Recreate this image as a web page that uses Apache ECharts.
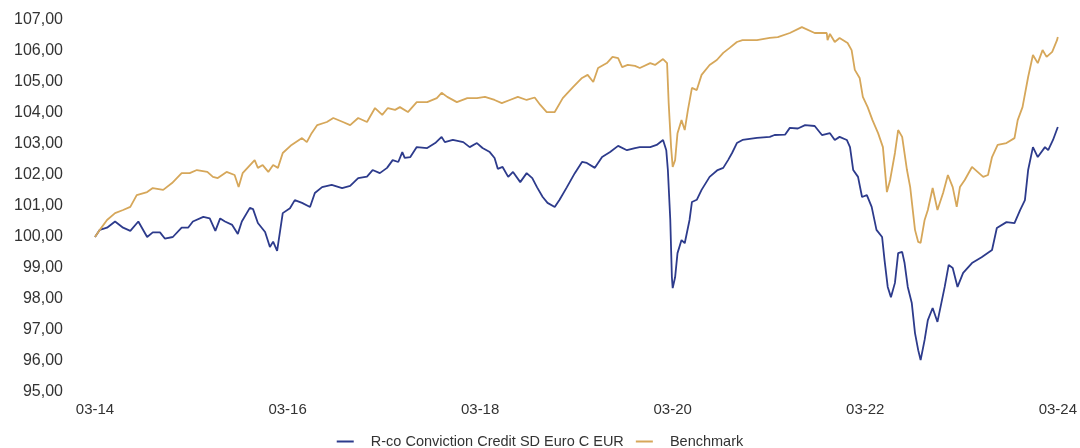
<!DOCTYPE html>
<html>
<head>
<meta charset="utf-8">
<title>R-co Conviction Credit SD Euro C EUR</title>
<script src="https://cdn.jsdelivr.net/npm/echarts@6/dist/echarts.min.js"></script>
<style>
  html, body { margin: 0; padding: 0; background: #fff; }
  #chart { width: 1080px; height: 448px; }
</style>
</head>
<body>
<div id="chart"></div>
<script>
// months since 03-14
var fundMonth = [0, 0.6, 1.5, 2.5, 3.5, 4.4, 5.4, 6.5, 7.2, 8.1, 8.7, 9.7, 10.8, 11.6, 12.2, 13.5, 14.3, 15.0, 15.6, 16.2,
  17.1, 17.8, 18.3, 19.3, 19.7, 20.3, 21.2, 21.8, 22.2, 22.7, 23.4, 24.3, 24.9, 25.8, 26.8, 27.4, 28.3, 29.5, 30.8, 31.8,
  32.8, 33.9, 34.6, 35.5, 36.4, 37.1, 37.8, 38.3, 38.6, 39.3, 40.1, 41.4, 42.4, 43.2, 43.6, 44.6, 45.9, 46.7, 47.6, 48.3,
  49.2, 49.8, 50.2, 50.8, 51.5, 52.1, 53.0, 53.8, 54.5, 55.1, 55.8, 56.4, 57.3, 57.9, 58.8, 59.8, 60.7, 61.3, 62.3, 63.2,
  64.2, 65.2, 66.3, 67.3, 67.9, 69.2, 70.0, 70.8, 71.2, 71.4, 71.7, 71.9, 72.0, 72.3, 72.6, 73.1, 73.5, 74.1, 74.4, 75.0,
  75.6, 76.6, 77.6, 78.3, 78.9, 79.4, 80.0, 80.7, 82.5, 84.1, 84.7, 86.0, 86.6, 87.6, 88.5, 89.7, 90.6, 91.6, 92.2, 92.8,
  93.7, 94.1, 94.5, 95.1, 95.6, 96.2, 96.8, 97.4, 98.1, 98.4, 98.8, 99.2, 99.7, 100.1, 100.6, 100.9, 101.3, 101.8, 102.2, 102.6,
  102.9, 103.4, 103.8, 104.4, 105.0, 105.9, 106.4, 106.9, 107.5, 108.2, 109.3, 110.5, 111.8, 112.4, 113.6, 114.6, 115.3, 115.9, 116.3, 116.9,
  117.5, 118.4, 118.8, 119.4, 120.0];
var fundValue = [100.0, 100.23, 100.3, 100.5, 100.3, 100.2, 100.5, 100.0, 100.15, 100.15, 99.95, 100.0, 100.3, 100.3, 100.5, 100.65, 100.6, 100.2, 100.6, 100.5,
  100.39, 100.1, 100.5, 100.94, 100.9, 100.45, 100.16, 99.68, 99.85, 99.55, 100.77, 100.93, 101.19, 101.1, 100.97, 101.42, 101.61, 101.68, 101.58, 101.65,
  101.9, 101.95, 102.16, 102.06, 102.23, 102.48, 102.42, 102.74, 102.55, 102.58, 102.9, 102.87, 103.03, 103.23, 103.06, 103.13, 103.06, 102.9, 103.03, 102.87,
  102.74, 102.55, 102.2, 102.26, 101.94, 102.1, 101.77, 102.06, 101.9, 101.6, 101.29, 101.1, 100.97, 101.2, 101.6, 102.06, 102.42, 102.39, 102.23, 102.58,
  102.74, 102.94, 102.8, 102.87, 102.9, 102.9, 102.97, 103.13, 102.8, 102.16, 100.55, 98.7, 98.35, 98.7, 99.48, 99.9, 99.8, 100.55, 101.13, 101.2,
  101.52, 101.94, 102.16, 102.23, 102.48, 102.71, 103.03, 103.13, 103.2, 103.23, 103.29, 103.3, 103.52, 103.5, 103.61, 103.58, 103.29, 103.35, 103.13, 103.23,
  103.13, 102.9, 102.16, 101.94, 101.29, 101.35, 100.97, 100.23, 100.0, 99.26, 98.39, 98.06, 98.52, 99.48, 99.52, 99.16, 98.39, 97.87, 96.9, 96.35,
  96.03, 96.68, 97.32, 97.71, 97.26, 98.39, 99.1, 99.0, 98.39, 98.84, 99.16, 99.35, 99.58, 100.29, 100.48, 100.45, 100.87, 101.19, 102.16, 102.9,
  102.58, 102.9, 102.8, 103.13, 103.55];

var benchMonth = [0, 0.6, 1.5, 2.5, 3.5, 4.4, 5.2, 6.5, 7.2, 8.5, 9.6, 10.8, 11.8, 12.7, 14.0, 14.7, 15.3, 16.4, 17.4, 17.9,
  18.4, 19.9, 20.3, 20.9, 21.6, 22.2, 22.8, 23.4, 24.5, 25.8, 26.4, 27.0, 27.7, 28.9, 29.7, 30.9, 31.8, 32.8, 33.9, 34.9,
  35.8, 36.5, 37.4, 38.0, 39.0, 40.1, 41.4, 42.6, 43.2, 43.9, 45.1, 46.4, 47.6, 48.6, 49.8, 50.7, 51.7, 52.7, 53.8, 54.8,
  55.5, 56.3, 57.3, 58.3, 59.6, 60.7, 61.4, 62.1, 62.7, 63.8, 64.5, 65.2, 65.7, 66.4, 67.3, 67.9, 69.2, 69.8, 70.8, 71.3,
  71.5, 71.8, 72.0, 72.3, 72.6, 73.1, 73.5, 73.9, 74.4, 75.0, 75.6, 76.6, 77.5, 78.3, 79.1, 80.0, 80.7, 82.5, 84.1, 85.1,
  86.6, 88.1, 89.7, 91.2, 91.3, 91.6, 92.2, 92.8, 93.8, 94.3, 94.7, 95.3, 95.7, 96.3, 96.9, 97.6, 98.2, 98.7, 99.1, 99.7,
  100.1, 100.6, 101.2, 101.6, 102.2, 102.6, 102.9, 103.4, 103.8, 104.4, 105.0, 105.7, 106.3, 106.9, 107.4, 107.8, 108.4, 109.3, 110.0, 110.7,
  111.3, 111.8, 112.5, 113.6, 114.6, 115.0, 115.6, 116.3, 116.9, 117.5, 118.1, 118.6, 119.3, 119.9, 120.0];
var benchValue = [100.0, 100.23, 100.55, 100.77, 100.87, 100.97, 101.35, 101.45, 101.58, 101.52, 101.74, 102.06, 102.06, 102.16, 102.1, 101.94, 101.9, 102.1, 102.0, 101.61,
  102.06, 102.48, 102.23, 102.32, 102.1, 102.32, 102.23, 102.71, 102.97, 103.19, 103.06, 103.35, 103.61, 103.71, 103.84, 103.71, 103.61, 103.84, 103.71, 104.16,
  103.94, 104.16, 104.1, 104.19, 104.03, 104.35, 104.35, 104.48, 104.65, 104.52, 104.35, 104.48, 104.48, 104.52, 104.42, 104.32, 104.42, 104.52, 104.42, 104.5,
  104.26, 104.03, 104.03, 104.48, 104.84, 105.13, 105.23, 105.0, 105.45, 105.61, 105.81, 105.77, 105.48, 105.55, 105.52, 105.45, 105.61, 105.55, 105.74, 105.61,
  104.32, 102.9, 102.26, 102.48, 103.35, 103.77, 103.45, 104.1, 104.81, 104.74, 105.23, 105.55, 105.71, 105.94, 106.1, 106.29, 106.35, 106.35, 106.42, 106.45,
  106.58, 106.77, 106.58, 106.58, 106.35, 106.55, 106.29, 106.42, 106.26, 106.03, 105.39, 105.13, 104.52, 104.19, 103.77, 103.35, 102.9, 101.45, 101.84, 102.71,
  103.45, 103.23, 102.16, 101.61, 100.23, 99.84, 99.81, 100.55, 100.87, 101.58, 100.87, 101.42, 102.0, 101.61, 100.97, 101.61, 101.84, 102.26, 102.1, 101.94,
  102.0, 102.58, 102.97, 103.03, 103.19, 103.77, 104.19, 105.16, 105.87, 105.61, 106.03, 105.81, 105.97, 106.35, 106.45];

var seriesNames = ["R-co Conviction Credit SD Euro C EUR", "Benchmark"];

function zip(xs, ys) {
  var out = [];
  for (var i = 0; i < xs.length; i++) {
    out.push([xs[i], ys[i]]);
  }
  return out;
}

var labelFont = "Liberation Sans";
var chart = echarts.init(document.getElementById("chart"));

var option = {
  animation: false,
  textStyle: { fontFamily: labelFont },
  grid: { left: 95, right: 22, top: 20, bottom: 56 },
  legend: {
    top: 429,
    left: "center",
    icon: "rect",
    itemWidth: 17,
    itemHeight: 2,
    itemGap: 12,
    data: seriesNames,
    formatter: function (name) {
      return "   " + name;
    },
    textStyle: { color: "#333", fontSize: 14.5, fontFamily: labelFont }
  },
  xAxis: {
    type: "value",
    min: 0,
    max: 120,
    interval: 24,
    axisLine: { show: false },
    axisTick: { show: false },
    splitLine: { show: false },
    axisLabel: {
      color: "#333",
      fontSize: 15,
      margin: 10,
      formatter: function (m) {
        return "03-" + (14 + m / 12);
      }
    }
  },
  yAxis: {
    type: "value",
    min: 95,
    max: 107,
    interval: 1,
    axisLine: { show: false },
    axisTick: { show: false },
    splitLine: { show: false },
    axisLabel: {
      color: "#333",
      fontSize: 16,
      margin: 32,
      formatter: function (v) {
        return v.toFixed(2).replace(".", ",");
      }
    }
  },
  series: [
    {
      name: seriesNames[0],
      type: "line",
      symbol: "none",
      data: zip(fundMonth, fundValue),
      lineStyle: { color: "#2d3b8c", width: 1.8 },
      itemStyle: { color: "#2d3b8c" }
    },
    {
      name: seriesNames[1],
      type: "line",
      symbol: "none",
      data: zip(benchMonth, benchValue),
      lineStyle: { color: "#d6a75a", width: 1.8 },
      itemStyle: { color: "#d6a75a" }
    }
  ]
};

chart.setOption(option);
window.addEventListener("resize", chart.resize);
</script>
</body>
</html>
